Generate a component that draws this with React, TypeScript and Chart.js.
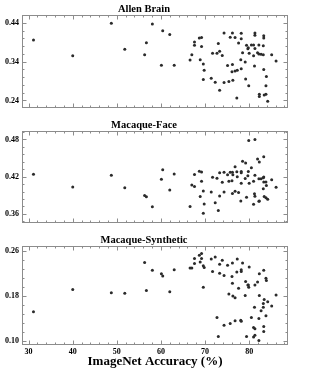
import React, { useEffect, useRef } from "react";
import { Chart, registerables } from "chart.js";

Chart.register(...registerables);

const FONT = "'Liberation Serif', 'Times New Roman', Times, serif";
const FRAME = "#8c8c8c";
const POINT = "#2b2b2b";

// ImageNet top-1 accuracy (%) of each model (shared by all three panels)
const accuracy = [
  31.1, 40.0, 48.75, 51.8, 56.3, 56.7, 58.05, 60.1, 60.4, 62.0, 63.0,
  66.6, 67.0, 67.6, 67.6, 68.7, 68.9, 69.2, 69.2, 69.6, 69.6, 69.8,
  71.4, 71.7, 72.3, 72.7, 73.0, 73.3, 73.3, 73.9, 74.3, 74.3,
  75.1, 75.4, 75.7, 76.1,
  76.2, 76.2, 76.3, 76.8, 76.8, 77.2, 77.3, 77.6,
  78.1, 78.2, 78.2, 78.2, 78.5,
  79.1, 79.2, 79.4, 79.7, 79.8, 79.9, 80.0,
  80.5, 81.0, 81.0, 81.2, 81.3, 81.3, 81.3,
  81.9, 82.2, 82.2, 82.3, 82.3, 82.7,
  83.2, 83.2, 83.3, 83.3, 83.3, 83.4, 83.8, 83.8, 83.9, 84.2,
  85.1, 86.1,
];

const allenBrain = [
  0.396, 0.355, 0.439, 0.372, 0.358, 0.389, 0.437, 0.331, 0.420, 0.410, 0.331,
  0.344, 0.358, 0.391, 0.382, 0.401, 0.345, 0.402, 0.379, 0.334, 0.294, 0.318,
  0.297, 0.362, 0.287, 0.362, 0.387, 0.367, 0.266, 0.356, 0.414, 0.286,
  0.330, 0.289, 0.403, 0.314,
  0.414, 0.333, 0.292, 0.402, 0.316, 0.246, 0.318, 0.388,
  0.345, 0.322, 0.413, 0.399, 0.363,
  0.339, 0.295, 0.382, 0.373, 0.376, 0.278, 0.362,
  0.383, 0.383, 0.355, 0.329, 0.414, 0.408, 0.374,
  0.363, 0.360, 0.383, 0.256, 0.250, 0.359,
  0.358, 0.381, 0.407, 0.401, 0.320, 0.254, 0.278, 0.256, 0.302, 0.238,
  0.358, 0.342,
];

const macaqueFace = [
  0.424, 0.4035, 0.4225, 0.402, 0.3895, 0.3875, 0.3715, 0.416, 0.431, 0.3985, 0.4245,
  0.372, 0.4065, 0.404, 0.4235, 0.4286, 0.388, 0.4275, 0.4125, 0.397, 0.361, 0.376,
  0.3955, 0.419, 0.378, 0.4175, 0.3655, 0.389, 0.4265, 0.411, 0.427, 0.3955,
  0.423, 0.4125, 0.427, 0.4135,
  0.393, 0.427, 0.423, 0.436, 0.3965, 0.428, 0.42, 0.3945,
  0.381, 0.4095, 0.4285, 0.4265, 0.445,
  0.417, 0.442, 0.387, 0.4215, 0.4285, 0.4785, 0.4095,
  0.4345, 0.3755, 0.4125, 0.3925, 0.48, 0.3885, 0.4225,
  0.4485, 0.3805, 0.4165, 0.4435, 0.381, 0.4165,
  0.4185, 0.4005, 0.452, 0.4195, 0.4115, 0.388, 0.386, 0.4115, 0.406, 0.3835,
  0.415, 0.403,
];

const macaqueSynthetic = [
  0.152, 0.192, 0.186, 0.185, 0.240, 0.190, 0.226, 0.220, 0.216, 0.188, 0.227,
  0.230, 0.230, 0.247, 0.238, 0.253, 0.241, 0.247, 0.256, 0.234, 0.196, 0.231,
  0.246, 0.224, 0.250, 0.142, 0.108, 0.221, 0.237, 0.244, 0.217, 0.128,
  0.235, 0.184, 0.131, 0.215,
  0.239, 0.203, 0.180, 0.177, 0.136, 0.223, 0.246, 0.194,
  0.137, 0.224, 0.227, 0.135, 0.239,
  0.181, 0.206, 0.108, 0.200, 0.200, 0.196, 0.232,
  0.142, 0.124, 0.107, 0.160, 0.200, 0.122, 0.110,
  0.205, 0.101, 0.140, 0.220, 0.181, 0.154,
  0.160, 0.167, 0.117, 0.226, 0.126, 0.174, 0.212, 0.145, 0.208, 0.170,
  0.1625, 0.182,
];

const xTickValues = [30, 40, 50, 60, 70, 80];
const allenTicks = [0.24, 0.34, 0.44];
const faceTicks = [0.36, 0.42, 0.48];
const synthTicks = [0.1, 0.18, 0.26];

const X_MIN = 28.5;
const X_MAX = 88.8;

type PanelProps = {
  title: string;
  values: number[];
  yTicks: number[];
  yMin: number;
  yMax: number;
  top: number;
  height: number;
  showX: boolean;
};

function makeFramePlugin(yTicks: number[]) {
  return {
    id: "frameTicks",
    beforeDatasetsDraw(chart: any) {
      const { ctx, chartArea: a, scales } = chart;
      const xs = scales.x;
      const ys = scales.y;
      const L = Math.round(a.left) + 0.5;
      const R = Math.round(a.right) - 0.5;
      const T = Math.round(a.top) + 0.5;
      const B = Math.round(a.bottom) - 0.5;
      ctx.save();
      ctx.strokeStyle = FRAME;
      ctx.lineWidth = 1;
      ctx.strokeRect(L, T, R - L, B - T);
      ctx.beginPath();
      for (let i = 0; i < 60; i++) {
        const v = 28 + 2 * i;
        if (v > X_MAX) break;
        if (v < X_MIN) continue;
        const px = Math.round(xs.getPixelForValue(v)) + 0.5;
        const len = v % 10 === 0 ? 4 : 2;
        ctx.moveTo(px, B);
        ctx.lineTo(px, B - len);
        ctx.moveTo(px, T);
        ctx.lineTo(px, T + len);
      }
      const step = (yTicks[1] - yTicks[0]) / 5;
      for (let i = -30; i < 60; i++) {
        const v = yTicks[0] + i * step;
        if (v < ys.min || v > ys.max) continue;
        const py = Math.round(ys.getPixelForValue(v)) + 0.5;
        const len = i % 5 === 0 ? 4 : 2;
        ctx.moveTo(L, py);
        ctx.lineTo(L + len, py);
        ctx.moveTo(R, py);
        ctx.lineTo(R - len, py);
      }
      ctx.stroke();
      ctx.restore();
    },
  };
}

function Panel({ title, values, yTicks, yMin, yMax, top, height, showX }: PanelProps) {
  const ref = useRef<HTMLCanvasElement | null>(null);
  useEffect(() => {
    if (!ref.current) return;
    const chart = new Chart(ref.current, {
      type: "scatter",
      data: {
        datasets: [
          {
            data: accuracy.map((x, i) => ({ x, y: values[i] })),
            pointRadius: 1.5,
            pointHoverRadius: 1.5,
            pointBackgroundColor: POINT,
            pointBorderWidth: 0,
            pointBorderColor: POINT,
          },
        ],
      },
      options: {
        responsive: false,
        animation: false,
        devicePixelRatio: 1,
        events: [],
        layout: { padding: { left: 0, right: 22, top: 0, bottom: showX ? 0 : 1 } },
        plugins: {
          legend: { display: false },
          tooltip: { enabled: false },
          title: {
            display: true,
            text: title,
            color: "#000",
            font: { family: FONT, size: 10.5, weight: "bold", lineHeight: 1 },
            padding: { top: 4, bottom: 0 },
          },
        },
        scales: {
          x: {
            type: "linear",
            display: showX,
            min: X_MIN,
            max: X_MAX,
            afterBuildTicks: (s: any) => {
              s.ticks = xTickValues.map((v) => ({ value: v }));
            },
            afterFit: (s: any) => {
              s.height = showX ? 27 : 0;
            },
            ticks: {
              color: "#000",
              font: { family: FONT, size: 8, weight: "bold" },
              padding: 2,
              maxRotation: 0,
              autoSkip: false,
            },
            grid: { display: false, drawTicks: false },
            border: { display: false },
            title: {
              display: showX,
              text: "ImageNet Accuracy (%)",
              color: "#000",
              font: { family: FONT, size: 13, weight: "bold" },
              padding: { top: 0, bottom: 3 },
            },
          },
          y: {
            type: "linear",
            min: yMin,
            max: yMax,
            afterBuildTicks: (s: any) => {
              s.ticks = yTicks.map((v) => ({ value: v }));
            },
            afterFit: (s: any) => {
              s.width = 22;
            },
            ticks: {
              color: "#000",
              font: { family: FONT, size: 8, weight: "bold" },
              padding: 3,
              autoSkip: false,
              callback: (v: any) => Number(v).toFixed(2),
            },
            grid: { display: false, drawTicks: false },
            border: { display: false },
          },
        },
      },
      plugins: [makeFramePlugin(yTicks)],
    } as any);
    return () => chart.destroy();
  }, [title, values, yTicks, yMin, yMax, showX]);
  return (
    <canvas
      ref={ref}
      width={310}
      height={height}
      style={{ position: "absolute", left: 0, top, width: 310, height, display: "block" }}
    />
  );
}

export default function App() {
  return (
    <div
      style={{
        position: "fixed",
        left: 0,
        top: 0,
        width: 310,
        height: 372,
        background: "#fff",
        overflow: "hidden",
      }}
    >
      <Panel title="Allen Brain" values={allenBrain} yTicks={allenTicks} yMin={0.22} yMax={0.4616} top={0} height={116} showX={false} />
      <Panel title="Macaque-Face" values={macaqueFace} yTicks={faceTicks} yMin={0.345} yMax={0.4945} top={116} height={115} showX={false} />
      <Panel title="Macaque-Synthetic" values={macaqueSynthetic} yTicks={synthTicks} yMin={0.0928} yMax={0.2703} top={231} height={141} showX={true} />
    </div>
  );
}
